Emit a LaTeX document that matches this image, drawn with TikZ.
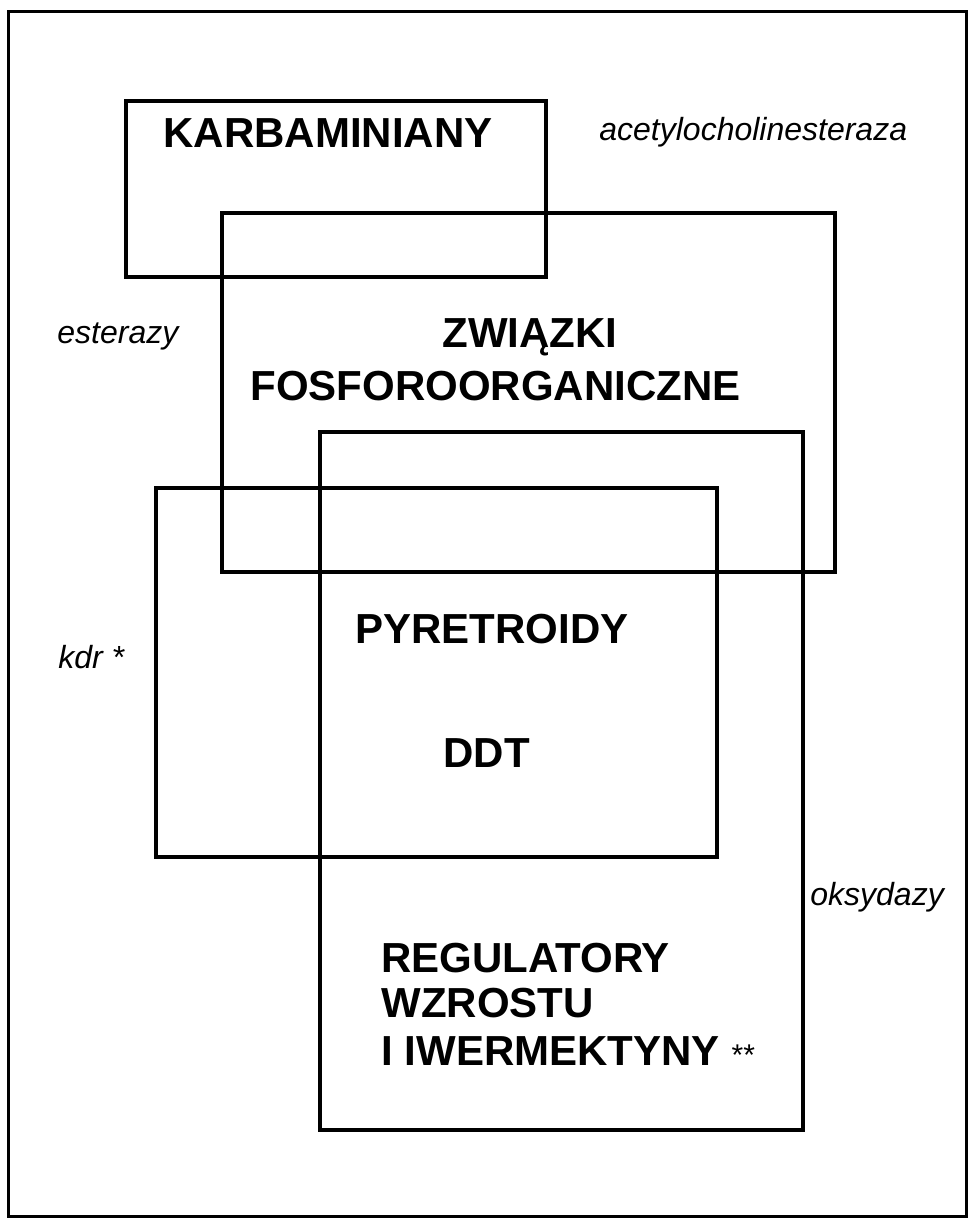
\documentclass[tikz,border=0pt]{standalone}
\usepackage{fontspec}
\setmainfont{Liberation Sans}
\usetikzlibrary{positioning}

\begin{document}
\begin{tikzpicture}[
        x=0.5pt, y=-0.5pt,
        % Global Styles
        frame/.style={draw, line width=1.5pt},
        setbox/.style={draw, line width=2pt},
        group/.style={inner sep=0pt, anchor=base west, font=\fontsize{21}{23}\selectfont\bfseries},
        enzyme/.style={inner sep=0pt, anchor=base west, font=\fontsize{16}{18}\selectfont\itshape}
    ]

    % fixed page size
    \useasboundingbox (0,0) rectangle (976,1222);
    \draw [frame] (8,11) rectangle (966,1216);

    % --- Sets ---
    \draw [setbox] (126,101) rectangle (546,277);   % karbaminiany
    \draw [setbox] (222,213) rectangle (835,572);   % fosforoorganiczne
    \draw [setbox] (320,432) rectangle (803,1130);  % oksydazy
    \draw [setbox] (156,488) rectangle (717,857);   % kdr

    % --- Nodes ---

    % 1. Insecticide groups
    \node [group] (karb) at (163,147) {KARBAMINIANY};
    \node [group] (zw1) at (442,347) {ZWIĄZKI};
    \node [group] (zw2) at (250,400) {FOSFOROORGANICZNE};
    \node [group] (pyr) at (355,643) {PYRETROIDY};
    \node [group] (ddt) at (443,767) {DDT};
    \node [group] (reg1) at (381,972) {REGULATORY};
    \node [group] (reg2) at (381,1017) {WZROSTU};
    \node [group] (reg3) at (381,1065) {I IWERMEKTYNY\hspace{6pt}{\mdseries\fontsize{15}{17}\selectfont **}};

    % 2. Resistance mechanisms
    \node [enzyme] (ache) at (599,140) {acetylocholinesteraza};
    \node [enzyme] (est) at (57,343) {esterazy};
    \node [enzyme] (kdr) at (58,668) {kdr *};
    \node [enzyme] (oks) at (810,905) {oksydazy};

\end{tikzpicture}
\end{document}
